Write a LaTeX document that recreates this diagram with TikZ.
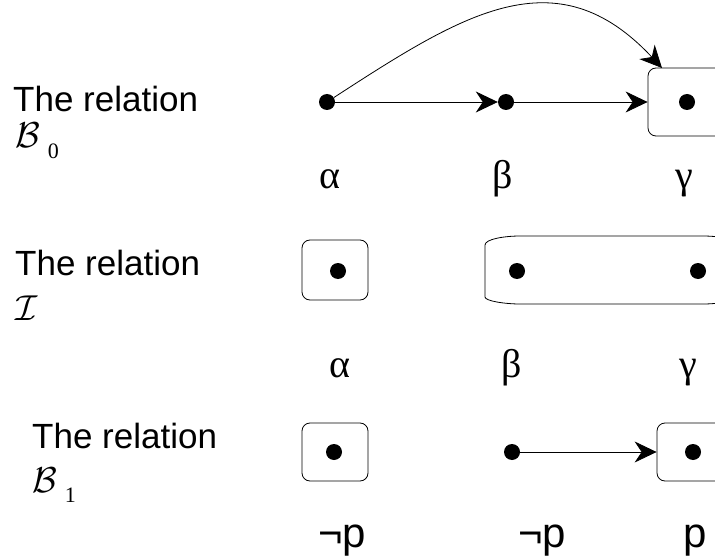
\documentclass[tikz,border=0pt]{standalone}
\usepackage{fontspec}
\setmainfont{Liberation Sans}
\newfontfamily\greekfont{Liberation Serif}
\usetikzlibrary{arrows.meta,positioning}
\tikzset{
  dot/.style={circle, fill=black, inner sep=0pt, minimum size=16pt},
  relbox/.style={draw, rounded corners=8pt, line width=0.8pt},
  arrow/.style={-{Stealth[length=22pt,width=21pt,inset=7pt]}, line width=0.8pt},
  rel/.style={anchor=base west, inner sep=0pt, font=\fontsize{35}{40}\selectfont},
  relsym/.style={anchor=base west, inner sep=0pt, font=\fontsize{10}{12}\selectfont},
  greek/.style={anchor=base, inner sep=0pt, font=\greekfont\fontsize{40}{46}\selectfont},
  prop/.style={anchor=base, inner sep=0pt, font=\fontsize{42}{48}\selectfont}
}
\newcommand{\relname}[2]{\scalebox{3.6}{$\mathcal{#1}$}\hspace{8pt}\raisebox{-10pt}{\greekfont\fontsize{22}{24}\selectfont #2}}

\begin{document}
\begin{tikzpicture}[x=1pt,y=-1pt]
\clip (0,0) rectangle (715,559);
% the relation B_0
\node[rel] (t0) at (13,112) {The relation};
\node[relsym] (r0) at (15,148) {\relname{B}{0}};
\node[dot] (a0) at (327,102) {};
\node[dot] (b0) at (506,102) {};
\node[relbox, minimum width=78pt, minimum height=68pt] (c0box) at (687,102) {};
\node[dot] (c0) at (687,102) {};
\coordinate (c0top) at (662,68);
\draw[arrow] (a0) -- (b0);
\draw[arrow] (b0) -- (c0box);
\draw[arrow] (a0) to[out=33,in=133,looseness=1.2] (c0top);
\node[greek] (la0) at (330,188) {α};
\node[greek] (lb0) at (503,188) {β};
\node[greek] (lc0) at (684,188) {γ};
% the relation I
\node[rel] (t1) at (15,275) {The relation};
\node[relsym] (r1) at (15,320) {\scalebox{3.6}{$\mathcal{I}$}};
\node[relbox, minimum width=66pt, minimum height=60pt] (a1box) at (335,270) {};
\node[dot] (a1) at (338,271) {};
\draw[line width=0.8pt] (485,245) -- (485,297) .. controls (485,301) and (505,304) .. (520,304)
  -- (703,304) .. controls (718,304) and (738,301) .. (738,297) -- (738,245)
  .. controls (738,239) and (718,236) .. (703,236) -- (520,236)
  .. controls (505,236) and (485,239) .. (485,245);
\node[dot] (b1) at (517,271) {};
\node[dot] (c1) at (698,271) {};
\node[greek] (la1) at (340,377) {α};
\node[greek] (lb1) at (512,377) {β};
\node[greek] (lc1) at (688,377) {γ};
% the relation B_1
\node[rel] (t2) at (32,448) {The relation};
\node[relsym] (r2) at (32,492) {\relname{B}{1}};
\node[relbox, minimum width=66pt, minimum height=58pt] (a2box) at (335,452) {};
\node[dot] (a2) at (334,452) {};
\node[dot] (b2) at (512,452) {};
\node[relbox, minimum width=72pt, minimum height=58pt] (c2box) at (693,452) {};
\node[dot] (c2) at (693,452) {};
\draw[arrow] (b2) -- (c2box);
\node[prop] (la2) at (342,547) {¬p};
\node[prop] (lb2) at (542,547) {¬p};
\node[prop] (lc2) at (695,547) {p};
\end{tikzpicture}
\end{document}
